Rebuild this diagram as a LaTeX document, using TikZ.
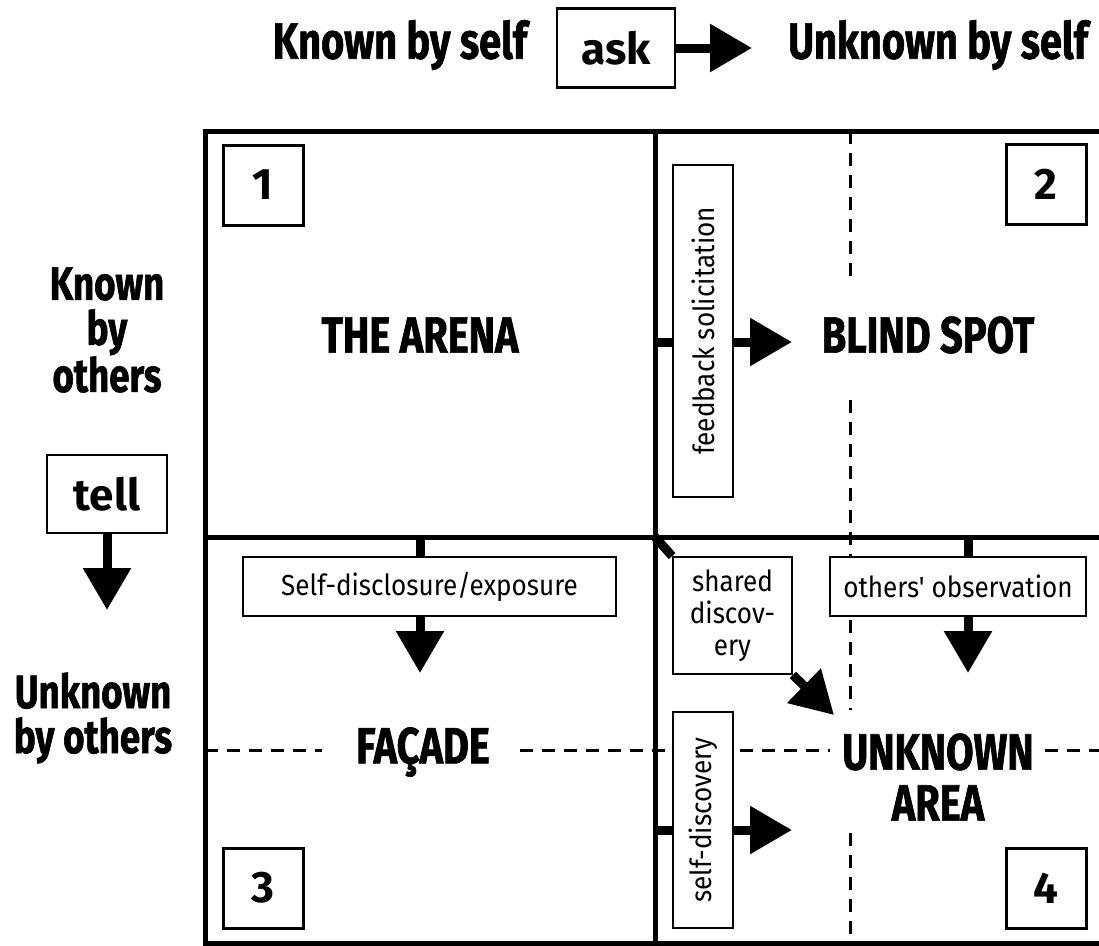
\documentclass[tikz,border=0pt]{standalone}
\usepackage{fontspec}
\setmainfont{Fira Sans}
\newfontfamily\headfont{Fira Sans}[FakeStretch=0.78, BoldFeatures={FakeBold=1.2}]
\newfontfamily\notefont{Fira Sans}[FakeStretch=0.9]
\usetikzlibrary{arrows.meta,positioning}

\tikzset{
  heading/.style={font=\headfont\bfseries\fontsize{51}{51}\selectfont, align=center},
  sidelabel/.style={font=\headfont\bfseries\fontsize{47}{45}\selectfont, align=center},
  numbox/.style={draw, line width=3pt, minimum width=80pt, minimum height=80pt,
    inner sep=0pt, font=\bfseries\fontsize{44}{44}\selectfont},
  actbox/.style={draw, line width=2.5pt, minimum width=118pt, minimum height=79pt,
    inner sep=0pt, font=\bfseries\fontsize{44}{44}\selectfont},
  notebox/.style={draw, fill=white, line width=1.8pt, inner sep=0pt,
    font=\notefont\fontsize{29}{32}\selectfont},
  bigarrow/.style={line width=9pt, -{Triangle[width=46pt,length=42pt]}},
  stub/.style={line width=9pt},
  divider/.style={line width=5pt},
  guide/.style={line width=3pt, dash pattern=on 13pt off 9pt},
}

\begin{document}
\begin{tikzpicture}[x=1pt, y=-1pt]
  \useasboundingbox (0,0) rectangle (1099,945);

  % grid of the four panes
  \draw[divider] (205,131) rectangle (1105,943);
  \draw[divider] (655,131) -- (655,943);
  \draw[divider] (205,537) -- (1105,537);

  % dashed guides
  \draw[guide] (850,131) -- (850,277);
  \draw[guide] (850,400) -- (850,710);
  \draw[guide] (850,833) -- (850,943);
  \draw[guide] (205,750) -- (322,750);
  \draw[guide] (520,750) -- (830,750);
  \draw[guide] (1045,750) -- (1105,750);

  % top row
  \node[heading] (knownself) at (400,45) {Known by self};
  \node[actbox] (ask) at (616,48) {ask};
  \node[heading] (unknownself) at (938,45) {Unknown by self};
  \coordinate (askend) at (752,48);
  \draw[bigarrow] (ask) -- (askend);

  % left column
  \node[sidelabel] (knownothers) at (107,330) {Known\\by\\others};
  \node[actbox, minimum width=120pt, minimum height=78pt] (tell) at (107,494) {tell};
  \coordinate (tellend) at (107,610);
  \draw[bigarrow] (tell) -- (tellend);
  \node[sidelabel] (unknownothers) at (93,718) {Unknown\\by others};

  % pane numbers
  \node[numbox] (one) at (263,185) {1};
  \node[numbox] (two) at (1046,184) {2};
  \node[numbox] (three) at (263,888) {3};
  \node[numbox] (four) at (1046,888) {4};

  % pane titles
  \node[heading] (arena) at (420,335) {THE ARENA};
  \node[heading] (blind) at (928,335) {BLIND SPOT};
  \node[heading] (facade) at (423,752) {FAÇADE};
  \node[heading] (unknown) at (938,777) {UNKNOWN\\AREA};

  % process boxes
  \node[notebox, minimum width=373pt, minimum height=59pt] (disclose) at (429.5,586.5) {Self-disclosure/exposure};
  \node[notebox, minimum width=256pt, minimum height=59pt] (observe) at (958,586.5) {others' observation};
  \node[notebox, minimum width=119pt, minimum height=117pt, align=center] (shared) at (732.5,615.5) {shared\\discov-\\ery};
  \node[notebox, rotate=90, minimum width=332pt, minimum height=60pt] (feedback) at (703,331) {feedback solicitation};
  \node[notebox, rotate=90, minimum width=216pt, minimum height=60pt] (selfdisc) at (703,820) {self-discovery};

  % flows between panes
  \coordinate (fbstart) at (655,342);
  \coordinate (fbend) at (792,342);
  \draw[stub] (fbstart) -- (fbstart -| feedback.north);
  \draw[bigarrow] (fbstart -| feedback.south) -- (fbend);

  \coordinate (sdstart) at (655,830);
  \coordinate (sdend) at (792,830);
  \draw[stub] (sdstart) -- (sdstart -| selfdisc.north);
  \draw[bigarrow] (sdstart -| selfdisc.south) -- (sdend);

  \coordinate (discstart) at (420,537);
  \coordinate (discend) at (420,673);
  \draw[stub] (discstart) -- (discstart |- disclose.north);
  \draw[bigarrow] (discstart |- disclose.south) -- (discend);

  \coordinate (obsstart) at (968,537);
  \coordinate (obsend) at (968,673);
  \draw[stub] (obsstart) -- (obsstart |- observe.north);
  \draw[bigarrow] (obsstart |- observe.south) -- (obsend);

  \coordinate (corner) at (655,537);
  \coordinate (sharedend) at (834,715);
  \draw[stub] (corner) -- (shared.north west);
  \draw[bigarrow] (shared.south east) -- (sharedend);
\end{tikzpicture}
\end{document}
